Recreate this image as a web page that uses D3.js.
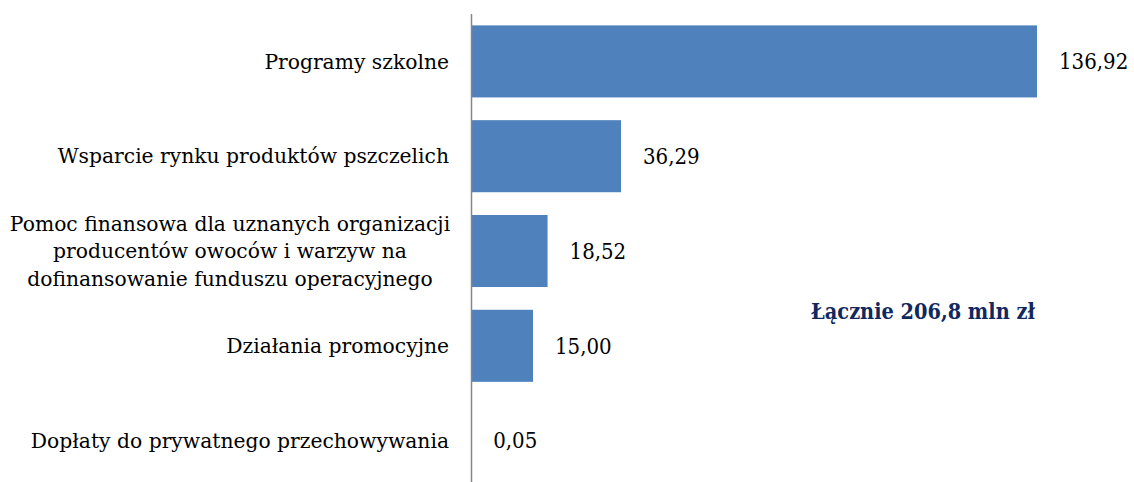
<!DOCTYPE html>
<html>
<head>
<meta charset="utf-8">
<script src="https://cdn.jsdelivr.net/npm/d3@7"></script>
<style>
  body { margin: 0; background: #fff; }
  svg { display: block; }
</style>
</head>
<body>
<div id="chart"></div>
<script>
// data
const categories = [
    ["Programy szkolne"],
    ["Wsparcie rynku produktów pszczelich"],
    ["Pomoc finansowa dla uznanych organizacji", "producentów owoców i warzyw na", "dofinansowanie funduszu operacyjnego"],
    ["Działania promocyjne"],
    ["Dopłaty do prywatnego przechowywania"]
];
const values = [136.92, 36.29, 18.52, 15.00, 0.05];
const valueLabels = ["136,92", "36,29", "18,52", "15,00", "0,05"];
const totalLabel = "Łącznie 206,8 mln zł";

const width = 1134;
const height = 482;
const left = 471;

const svg = d3.select("#chart")
    .append("svg")
    .attr("width", width)
    .attr("height", height);

const x = d3.scaleLinear()
    .domain([0, 136.92])
    .range([left, 1037]);

const y = d3.scaleBand()
    .domain(d3.range(values.length))
    .range([14, 488])
    .paddingInner(0.24)
    .paddingOuter(0.12);

const rows = values.map((v, i) => ({v: v, lines: categories[i], label: valueLabels[i], i: i}));

svg.selectAll("rect.bar")
    .data(rows)
    .enter().append("rect")
    .attr("class", "bar")
    .attr("x", x(0))
    .attr("y", d => y(d.i))
    .attr("width", d => x(d.v) - x(0))
    .attr("height", y.bandwidth())
    .attr("fill", "#4F81BD");

// vertical axis line
svg.append("line")
    .attr("x1", left + 0.5).attr("x2", left + 0.5)
    .attr("y1", 14).attr("y2", height)
    .attr("stroke", "#868686")
    .attr("stroke-width", 1.5);

// category labels
const lineH = 27.5;
const cat = svg.selectAll("text.cat")
    .data(rows)
    .enter().append("text")
    .attr("class", "cat")
    .attr("font-family", "'DejaVu Serif', serif")
    .attr("font-size", 20.3)
    .attr("fill", "#000")
    .attr("text-anchor", d => d.lines.length > 1 ? "middle" : "end");

cat.each(function(d) {
    const n = d.lines.length;
    const cy = y(d.i) + y.bandwidth() / 2;
    d3.select(this).selectAll("tspan")
        .data(d.lines)
        .enter().append("tspan")
        .attr("x", n > 1 ? 230 : 449)
        .attr("y", (l, k) => cy + (k - (n - 1) / 2) * lineH)
        .attr("dy", "0.35em")
        .text(l => l);
});

// value labels
svg.selectAll("text.val")
    .data(rows)
    .enter().append("text")
    .attr("class", "val")
    .attr("x", d => x(d.v) + 22)
    .attr("y", d => y(d.i) + y.bandwidth() / 2)
    .attr("dy", "0.35em")
    .attr("font-family", "'DejaVu Serif Condensed', 'DejaVu Serif', serif")
    .attr("font-stretch", "condensed")
    .attr("font-size", 22)
    .attr("fill", "#000")
    .text(d => d.label);

svg.append("text")
    .attr("x", 923)
    .attr("y", 311)
    .attr("dy", "0.35em")
    .attr("text-anchor", "middle")
    .attr("font-family", "'DejaVu Serif Condensed', 'DejaVu Serif', serif")
    .attr("font-stretch", "condensed")
    .attr("font-weight", "bold")
    .attr("font-size", 21.5)
    .attr("fill", "#10285E")
    .text(totalLabel);
</script>
</body>
</html>
